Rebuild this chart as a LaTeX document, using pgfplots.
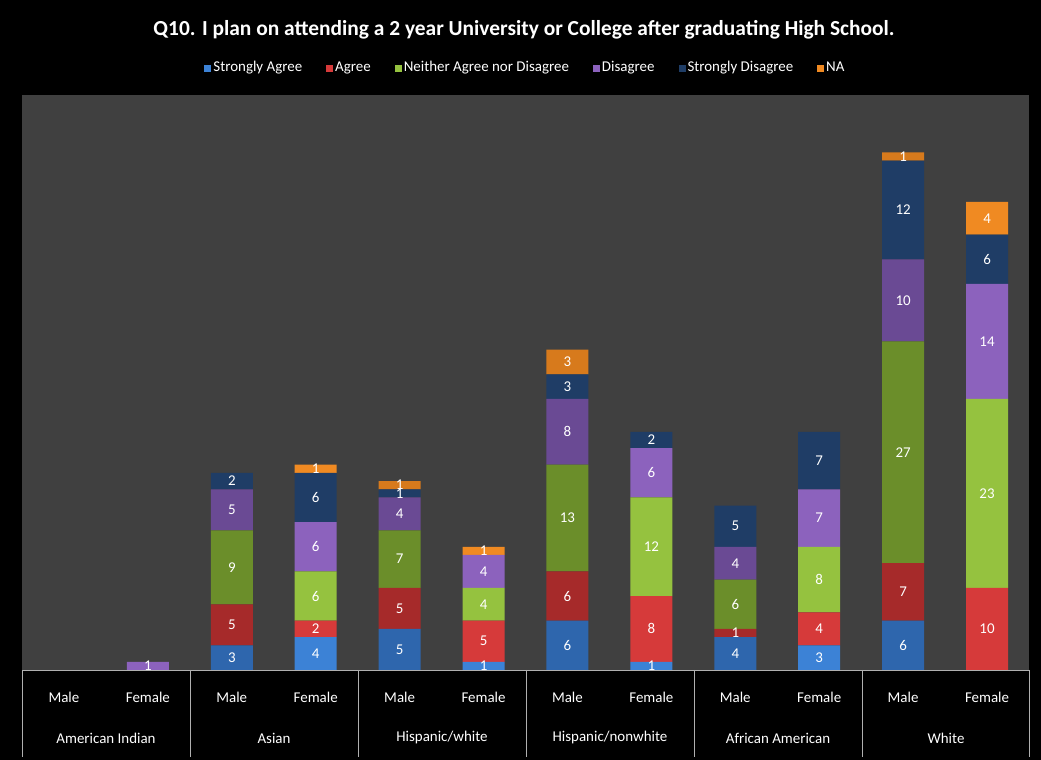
\documentclass[border=0pt]{standalone}
\usepackage{pgfplots}
\pgfplotsset{compat=1.18}
\usepackage{pgfplotstable}
\usepackage{fontspec}
\setmainfont{Carlito}

\definecolor{bgplot}{HTML}{404040}
\definecolor{mSA}{HTML}{2E66AD}
\definecolor{mA}{HTML}{A62A2A}
\definecolor{mN}{HTML}{6B8E2A}
\definecolor{mD}{HTML}{6A4A94}
\definecolor{mSD}{HTML}{1F3D66}
\definecolor{mNA}{HTML}{D77A1C}
\definecolor{fSA}{HTML}{3C82D6}
\definecolor{fA}{HTML}{D63A3A}
\definecolor{fN}{HTML}{95C23F}
\definecolor{fD}{HTML}{8C62BD}
\definecolor{fSD}{HTML}{1F3D66}
\definecolor{fNA}{HTML}{F08A22}
\definecolor{tline}{HTML}{B0B0B0}

\pgfplotstableread{
x SA A N D SD NA
0 0 0 0 0 0 0
2 3 5 9 5 2 0
4 5 5 7 4 1 1
6 6 6 13 8 3 3
8 4 1 6 4 5 0
10 6 7 27 10 12 1
}\male

\pgfplotstableread{
x SA A N D SD NA
1 0 0 0 1 0 0
3 4 2 6 6 6 1
5 1 5 4 4 0 1
7 1 8 12 6 2 0
9 3 4 8 7 7 0
11 0 10 23 14 6 4
}\female

\pgfplotsset{
  centered labels/.style={
    nodes near coords={\pgfmathfloatifflags{\pgfplotspointmeta}{0}{}{\pgfmathprintnumber[assume math mode=true]{\pgfplotspointmeta}}},
    every node near coord/.append style={
      anchor=center,
      text=white,
      font=\fontsize{15}{17}\selectfont
    }
  },
  common/.style={
    scale only axis,
    width=1007bp, height=575bp,
    at={(22bp,90bp)}, anchor=south west,
    xmin=-0.5, xmax=11.5, ymin=0, ymax=70,
    ybar stacked, bar width=0.5,
    centered labels,
    axis line style={draw=none},
    major tick length=0,
    ytick=\empty,
  }
}

\begin{document}
\begin{tikzpicture}
\fill[black] (0,0) rectangle (1041bp,760bp);

\begin{axis}[common,
  axis background/.style={fill=bgplot},
  xtick={0,...,11},
  xticklabels={Male,Female,Male,Female,Male,Female,Male,Female,Male,Female,Male,Female},
  xticklabel style={anchor=center, yshift=-27bp, text=white, font=\fontsize{15}{17}\selectfont},
]
\addplot[fill=mSA, draw=none] table[x=x,y=SA]{\male};
\addplot[fill=mA, draw=none] table[x=x,y=A]{\male};
\addplot[fill=mN, draw=none] table[x=x,y=N]{\male};
\addplot[fill=mD, draw=none] table[x=x,y=D]{\male};
\addplot[fill=mSD, draw=none] table[x=x,y=SD]{\male};
\addplot[fill=mNA, draw=none] table[x=x,y=NA]{\male};
\end{axis}

\begin{axis}[common,
  xtick=\empty,
  legend columns=6,
  legend style={at={(0.5,1.046)}, anchor=center, draw=none, fill=none,
    text=white, font=\fontsize{15}{17}\selectfont,
    nodes={text height=1.6ex, text depth=0.4ex, inner sep=2bp},
    /tikz/every even column/.append style={column sep=22bp}},
  legend image code/.code={\fill[#1] (-1bp,-3.5bp) rectangle (6bp,3.5bp);},
]
\addplot[fill=fSA, draw=none] table[x=x,y=SA]{\female};
\addplot[fill=fA, draw=none] table[x=x,y=A]{\female};
\addplot[fill=fN, draw=none] table[x=x,y=N]{\female};
\addplot[fill=fD, draw=none] table[x=x,y=D]{\female};
\addplot[fill=fSD, draw=none] table[x=x,y=SD]{\female};
\addplot[fill=fNA, draw=none] table[x=x,y=NA]{\female};
\legend{Strongly Agree, Agree, Neither Agree nor Disagree, Disagree, Strongly Disagree, NA}
\end{axis}

% category table
\draw[tline, line width=0.8bp] (22bp,90bp) -- (1029bp,90bp);
\foreach \xx in {22,190,358,526,694,862,1029}{
  \draw[tline, line width=0.8bp] (\xx bp,90bp) -- (\xx bp,3bp);
}
\foreach \xx/\lab in {106/{American Indian},274/{Asian},442/{Hispanic/white},610/{Hispanic/nonwhite},778/{African American},946/{White}}{
  \node[text=white, font=\fontsize{15}{17}\selectfont] at (\xx bp,22bp) {\lab};
}

\node[text=white, font=\bfseries\fontsize{21.5}{24}\selectfont] at (524bp,730bp)
  {Q10. I plan on attending a 2 year University or College after graduating High School.};

\pgfresetboundingbox
\path (0,0) rectangle (1041bp,760bp);
\end{tikzpicture}
\end{document}
